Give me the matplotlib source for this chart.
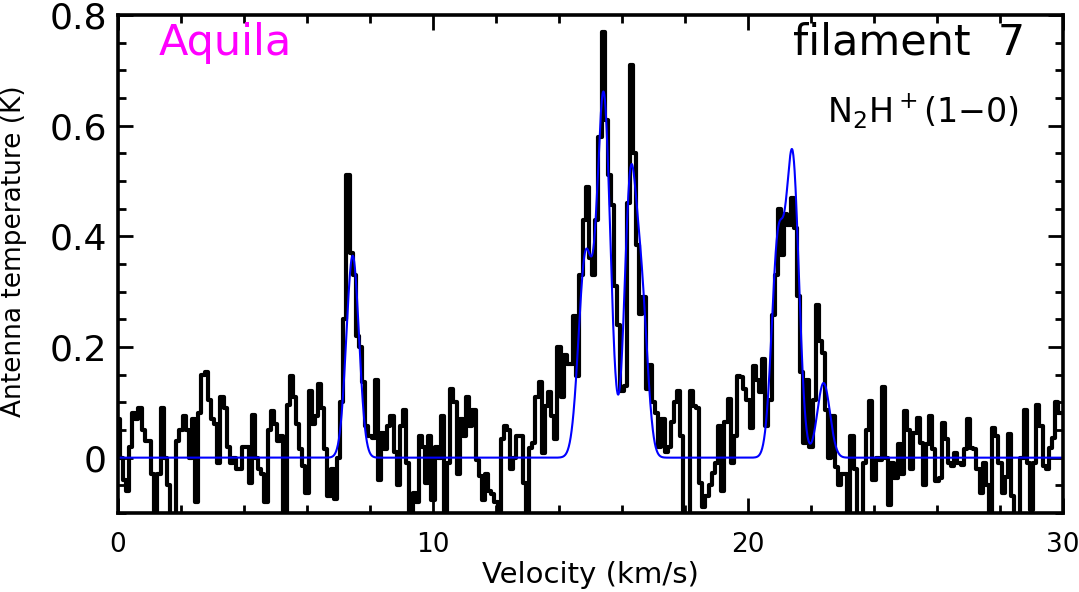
import numpy as np
import matplotlib
matplotlib.use("Agg")
import matplotlib.pyplot as plt
from matplotlib.ticker import MultipleLocator

# spectrum channels, 0.1 km/s spacing starting at 0 km/s
v0 = 0.0
dv = 0.1
tmb_00_37 = [0.07, 0.0, -0.04, -0.06, 0.02, 0.08, 0.07, 0.09, 0.05, 0.03, 0.03, -0.03, -0.12, -0.03, 0.09,
             0.0, -0.05, -0.12, -0.12, 0.03, 0.05, 0.075, 0.05, 0.0, 0.07, -0.08, 0.08, 0.15, 0.155, 0.105,
             0.07, 0.06, -0.01, 0.11, 0.09, 0.02, -0.01, 0.0]
tmb_38_76 = [-0.02, -0.02, 0.02, 0.02, -0.045, 0.078, 0.0, -0.02, -0.03, -0.08, 0.05, 0.085, 0.06, 0.03, 0.04,
             -0.12, 0.096, 0.148, 0.11, 0.06, 0.015, -0.015, -0.064, 0.12, 0.06, 0.075, 0.133, 0.09, 0.015, -0.07,
             -0.02, -0.075, 0.0, 0.1, 0.25, 0.51, 0.37, 0.33, 0.22]
tmb_77_117 = [0.2, 0.136, 0.057, 0.039, 0.035, 0.14, -0.04, 0.045, 0.015, 0.057, 0.075, 0.01, -0.05, 0.057, 0.087,
              -0.01, -0.12, -0.064, -0.08, 0.039, 0.02, -0.046, 0.039, -0.076, 0.02, 0.0, 0.075, -0.12, -0.01, 0.124,
              0.1, -0.03, 0.069, 0.04, 0.11, 0.057, 0.087, -0.004, -0.034, -0.076, -0.03]
tmb_118_139 = [-0.06, -0.065, -0.08, -0.12, 0.033, 0.057, 0.05, -0.02, 0.0, 0.039, 0.039, -0.046, -0.12, 0.018,
               0.027, 0.11, 0.136, 0.008, 0.093, 0.118, 0.075, 0.033]
tmb_140_170 = [0.2, 0.11, 0.185, 0.17, 0.17, 0.256, 0.147, 0.33, 0.43, 0.49, 0.36, 0.33, 0.43, 0.58, 0.77,
               0.61, 0.51, 0.456, 0.31, 0.24, 0.12, 0.13, 0.46, 0.71, 0.55, 0.385, 0.26, 0.29, 0.124, 0.167, 0.1]
tmb_171_194 = [0.08, 0.02, 0.07, 0.01, 0.02, 0.064, 0.1, 0.12, 0.04, -0.12, -0.12, 0.12, 0.094, 0.09, -0.045,
               -0.09, -0.07, -0.05, -0.027, -0.01, 0.058, -0.06, 0.064, 0.106]
tmb_195_232 = [-0.01, 0.04, 0.148, 0.145, 0.124, 0.105, 0.054, 0.166, 0.14, 0.118, 0.178, 0.057, 0.105, 0.257,
               0.33, 0.45, 0.366, 0.44, 0.42, 0.47, 0.415, 0.293, 0.154, 0.027, 0.14, 0.02, 0.105, 0.275, 0.21,
               0.19, 0.087, 0.0, 0.075, -0.016, -0.05, -0.03, -0.03, -0.12]
tmb_233_272 = [0.039, -0.02, -0.12, -0.12, -0.01, 0.05, 0.102, -0.04, 0.0, -0.005, 0.127, 0.0, -0.085, -0.01,
               -0.037, 0.024, -0.03, 0.084, 0.05, -0.02, 0.045, 0.072, 0.027, -0.05, 0.024, 0.075, 0.015, -0.043,
               -0.037, 0.063, 0.033, -0.01, -0.015, 0.008, -0.01, -0.013, 0.015, 0.07, 0.018, 0.015]
tmb_273_299 = [-0.02, -0.064, -0.01, -0.05, -0.12, 0.054, 0.04, -0.01, -0.064, -0.035, 0.042, -0.07, -0.12,
               -0.12, 0.0, 0.087, -0.01, -0.095, -0.01, 0.096, 0.057, -0.015, -0.02, 0.018, 0.035, 0.1, 0.08]

# hyperfine fit components (centre km/s, peak K, sigma km/s)
fit_centers = [7.45, 14.84, 15.42, 16.25, 16.6, 20.95, 21.42, 22.4]
fit_peaks = [0.365, 0.36, 0.65, 0.45, 0.3, 0.38, 0.53, 0.135]
fit_sigmas = [0.2, 0.22, 0.21, 0.18, 0.2, 0.2, 0.2, 0.2]

tmb = np.array(tmb_00_37 + tmb_38_76 + tmb_77_117 + tmb_118_139 + tmb_140_170
               + tmb_171_194 + tmb_195_232 + tmb_233_272 + tmb_273_299)
vel = v0 + dv * np.arange(len(tmb))

vfit = np.linspace(0, 30, 3001)
tfit = np.zeros_like(vfit)
for c, a, s in zip(fit_centers, fit_peaks, fit_sigmas):
    tfit += a * np.exp(-(vfit - c) ** 2 / (2 * s ** 2))

fig = plt.figure(figsize=(10.79, 5.92), dpi=100)
ax = fig.add_axes([118 / 1079, 79 / 592, 945 / 1079, 498 / 592])

ax.step(vel, tmb, where='mid', color='black', lw=3.0)
ax.plot(vfit, tfit, color='#0000ff', lw=1.5)

ax.set_xlim(0, 30)
ax.set_ylim(-0.1, 0.8)

for s in ax.spines.values():
    s.set_linewidth(2.6)

ax.xaxis.set_major_locator(MultipleLocator(10))
ax.xaxis.set_minor_locator(MultipleLocator(2))
ax.yaxis.set_major_locator(MultipleLocator(0.2))
ax.yaxis.set_minor_locator(MultipleLocator(0.05))
ax.tick_params(which='both', direction='in', top=True, right=True, width=2)
ax.tick_params(which='major', length=11)
ax.tick_params(which='minor', length=6)
ax.tick_params(axis='y', which='major', labelsize=26, pad=8)
ax.tick_params(axis='x', which='major', labelsize=19, pad=14)
ax.set_yticks([0, 0.2, 0.4, 0.6, 0.8])
ax.set_yticklabels(['0', '0.2', '0.4', '0.6', '0.8'])

ax.set_xlabel("Velocity (km/s)", fontsize=21, labelpad=2)
ax.set_ylabel("Antenna temperature (K)", fontsize=19)
ax.yaxis.set_label_coords(-0.096, 0.525)

ax.text(1.3, 0.75, "Aquila", color='#ff00ff', fontsize=31, va='center', ha='left')
ax.text(28.8, 0.75, "filament  7", color='black', fontsize=31, va='center', ha='right')
ax.text(28.6, 0.625, r"N$_2$H$^+$(1$-$0)", color='black', fontsize=24, va='center', ha='right')

plt.savefig('out.png', dpi=100)
